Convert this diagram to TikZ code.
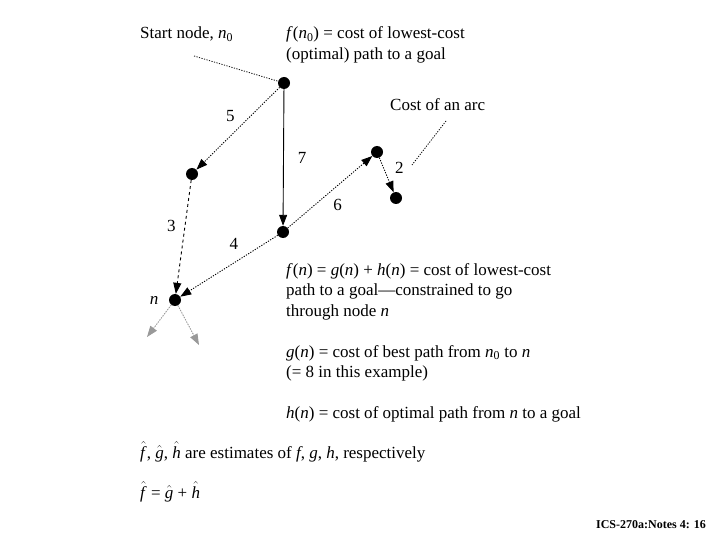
\documentclass[tikz,border=0pt]{standalone}
\usepackage{fontspec}
\setmainfont{Liberation Serif}
\usetikzlibrary{arrows.meta,positioning}

\newcommand{\est}[1]{$\hat{\mbox{\textit{#1}}}$}

\begin{document}
\begin{tikzpicture}[
  x=1pt, y=-1pt,
  font=\fontsize{17}{20.5}\selectfont,
  state/.style={circle, fill=black, inner sep=0pt, minimum size=12pt},
  arc/.style={-{Triangle[length=11pt,width=8pt]}, line width=0.9pt},
  dots/.style={dash pattern=on 1.2pt off 1.4pt},
  greyarc/.style={-{Triangle[length=11pt,width=8pt]}, dots, line width=0.9pt, draw=gray!80, fill=gray!80},
  pointer/.style={dots, line width=0.8pt},
  txt/.style={anchor=base west, align=left, inner sep=0pt},
  cost/.style={inner sep=1pt}
]
\useasboundingbox (0,0) rectangle (720,540);

% search graph
\node[state] (n0) at (284,83) {};
\node[state] (a)  at (192,174) {};
\node[state] (m)  at (283,232) {};
\node[state] (n)  at (175,300) {};
\node[state] (b)  at (377,152) {};
\node[state] (c)  at (396,198) {};
\coordinate (out1) at (147,337);
\coordinate (out2) at (199,345);

\draw[arc, dots] (n0) -- node[cost, above left=5pt and 2pt] {5} (a);
\draw[arc] (n0) -- node[cost, right=13pt] {7} (m);
\draw[arc, dashed] (a) -- node[cost, pos=0.4, left=8pt] {3} (n);
\draw[arc, dots] (m) -- node[cost, pos=0.45, above=12pt] {4} (n);
\draw[arc, dots] (m) -- node[cost, below right=6pt and 2pt] {6} (b);
\draw[arc, dots] (b) -- node[cost, pos=0.3, right=10pt] {2} (c);
\draw[greyarc] (n) -- (out1);
\draw[greyarc] (n) -- (out2);
\node[left=7pt of n, font=\fontsize{17}{20.5}\selectfont\itshape] (nlbl) {n};

% annotations
\node[txt] (start) at (140,39) {Start node, \textit{n}\textsubscript{0}};
\coordinate (startp) at (194,56);
\draw[pointer] (startp) -- (n0);

\node[txt] (fn0) at (286,59.5) {\textit{f}(\textit{n}\textsubscript{0}) = cost of lowest-cost\\(optimal) path to a goal};

\node[txt] (arccost) at (390,111) {Cost of an arc};
\coordinate (arcp1) at (446,121);
\coordinate (arcp2) at (412,165);
\draw[pointer] (arcp1) -- (arcp2);

\node[txt] (fn) at (286,316) {\textit{f}(\textit{n}) = \textit{g}(\textit{n}) + \textit{h}(\textit{n}) = cost of lowest-cost\\path to a goal---constrained to go\\through node \textit{n}};
\node[txt] (gn) at (286,377.5) {\textit{g}(\textit{n}) = cost of best path from \textit{n}\textsubscript{0} to \textit{n}\\(= 8 in this example)};
\node[txt] (hn) at (286,418) {\textit{h}(\textit{n}) = cost of optimal path from \textit{n} to a goal};

\node[txt] (est) at (140,458) {\est{f}, \est{g}, \est{h} are estimates of \textit{f}, \textit{g}, \textit{h}, respectively};
\node[txt] (sum) at (140,498) {\est{f} = \est{g} + \est{h}};

\node[anchor=base east, inner sep=0pt, font=\fontsize{12}{14}\selectfont\bfseries] (foot) at (706,528) {ICS-270a:Notes 4: 16};
\end{tikzpicture}
\end{document}
